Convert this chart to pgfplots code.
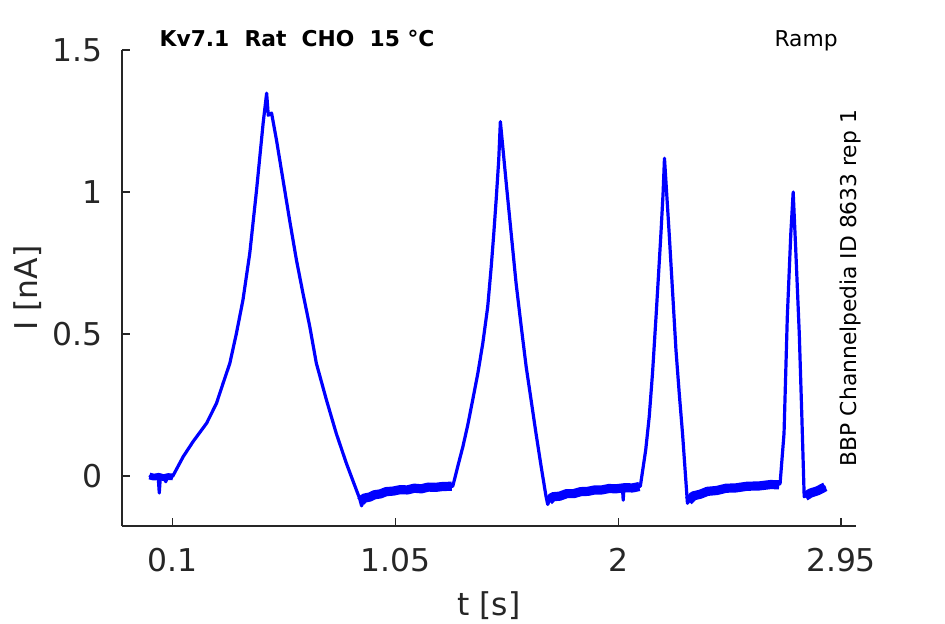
\documentclass[border=0pt]{standalone}
\usepackage{fontspec}
\setmainfont{DejaVu Sans}
\usepackage{pgfplots}
\pgfplotsset{compat=1.18}
\definecolor{axgray}{RGB}{38,38,38}
\definecolor{trace}{RGB}{0,0,255}
\newcommand{\tickfont}{\fontsize{15.7bp}{18bp}\selectfont}
\newcommand{\smallfont}{\fontsize{10.9bp}{13bp}\selectfont}
\begin{document}
\begin{tikzpicture}
\path[use as bounding box] (-61bp,-49bp) rectangle (411.5bp,263bp);
\begin{axis}[
  at={(0,0)}, anchor=south west,
  scale only axis, width=367bp, height=238bp,
  xmin=-0.117, xmax=3.014, ymin=-0.176, ymax=1.5,
  axis lines*=left,
  axis line style={draw=axgray, line width=0.55bp},
  tick style={draw=axgray, line width=0.55bp},
  tick align=inside, major tick length=4bp,
  xtick={0.1,1.05,2,2.95}, xticklabels={0.1,1.05,2,2.95},
  ytick={0,0.5,1,1.5}, yticklabels={0,0.5,1,1.5},
  xticklabel style={font=\tickfont, text=axgray, anchor=north, inner sep=0pt, yshift=-11bp},
  yticklabel style={font=\tickfont, text=axgray, anchor=east, inner sep=0pt, xshift=-9.35bp},
  xlabel={t [s]}, ylabel={I [nA]},
  xlabel style={font=\tickfont, text=axgray, at={(rel axis cs:0.5,-0.187)}, anchor=base, inner sep=0pt},
  ylabel style={font=\tickfont, text=axgray, at={(rel axis cs:-0.1154,0.5)}, rotate=0, anchor=base, inner sep=0pt},
  clip=false,
]
% main trace
\addplot[trace, line width=1.6bp, line join=round] coordinates {
(0,0.003) (0.01,-0.005) (0.02,0.002) (0.03,-0.008) (0.038,-0.01) (0.042,-0.06) (0.046,-0.01) (0.06,-0.005) (0.07,-0.02) (0.075,-0.005) (0.09,-0.004) (0.1,0.0)
(0.144,0.068) (0.186,0.121) (0.244,0.186) (0.286,0.256) (0.314,0.326) (0.343,0.397) (0.371,0.502) (0.399,0.620) (0.428,0.784) (0.457,1.007) (0.485,1.242) (0.5,1.348) (0.507,1.27) (0.521,1.278)
(0.542,1.183) (0.570,1.042) (0.598,0.901) (0.627,0.761) (0.655,0.643) (0.684,0.526) (0.712,0.397) (0.755,0.268) (0.797,0.150) (0.840,0.045) (0.875,-0.032) (0.897,-0.08)
(0.905,-0.105) (0.915,-0.08) (0.93,-0.078) (0.95,-0.07) (0.98,-0.062) (1.0,-0.057) (1.05,-0.05) (1.1,-0.047) (1.15,-0.044) (1.2,-0.04) (1.25,-0.038) (1.294,-0.036)
(1.315,0.033) (1.337,0.103) (1.358,0.180) (1.379,0.268) (1.401,0.362) (1.422,0.467) (1.443,0.596) (1.458,0.737) (1.469,0.855) (1.479,0.972) (1.490,1.113) (1.497,1.248)
(1.522,1.031) (1.543,0.855) (1.564,0.679) (1.586,0.526) (1.607,0.385) (1.628,0.268) (1.649,0.150) (1.671,0.033) (1.692,-0.073) (1.699,-0.1)
(1.71,-0.078) (1.75,-0.068) (1.805,-0.061) (1.85,-0.055) (1.9,-0.05) (1.95,-0.047) (2.018,-0.045) (2.021,-0.085) (2.024,-0.045) (2.05,-0.043) (2.094,-0.036)
(2.117,0.092) (2.132,0.209) (2.146,0.362) (2.161,0.561) (2.172,0.714) (2.182,0.855) (2.191,0.995) (2.197,1.119)
(2.217,0.855) (2.232,0.643) (2.246,0.444) (2.260,0.291) (2.274,0.150) (2.295,-0.096)
(2.31,-0.075) (2.374,-0.052) (2.45,-0.043) (2.55,-0.036) (2.69,-0.028)
(2.707,0.150) (2.721,0.561) (2.736,0.855) (2.746,1.0) (2.757,0.796) (2.772,0.502) (2.783,0.209) (2.793,-0.073)
(2.81,-0.065) (2.85,-0.05) (2.885,-0.038)
};
% noisy baseline bands
\addplot[trace, line width=3.4bp, line join=round] coordinates {
(0,0.0) (0.02,-0.004) (0.04,-0.001) (0.06,-0.006) (0.08,-0.002) (0.1,-0.003)
};
\addplot[trace, line width=4.6bp, line join=round] coordinates {
(0.902,-0.09) (0.915,-0.078) (0.94,-0.074) (0.96,-0.066) (0.985,-0.063) (1.01,-0.055) (1.04,-0.053) (1.07,-0.048) (1.1,-0.049) (1.13,-0.043) (1.16,-0.045) (1.19,-0.039) (1.22,-0.04) (1.25,-0.037) (1.29,-0.036)
};
\addplot[trace, line width=4.6bp, line join=round] coordinates {
(1.703,-0.088) (1.72,-0.073) (1.75,-0.071) (1.78,-0.062) (1.81,-0.062) (1.84,-0.055) (1.87,-0.054) (1.9,-0.049) (1.93,-0.049) (1.96,-0.044) (1.99,-0.045) (2.03,-0.041) (2.06,-0.042) (2.09,-0.037)
};
\addplot[trace, line width=4.6bp, line join=round] coordinates {
(2.299,-0.088) (2.32,-0.07) (2.35,-0.064) (2.38,-0.054) (2.42,-0.051) (2.46,-0.043) (2.5,-0.042) (2.55,-0.036) (2.6,-0.035) (2.65,-0.03) (2.686,-0.031)
};
\addplot[trace, line width=4.6bp, line join=round] coordinates {
(2.797,-0.072) (2.82,-0.06) (2.85,-0.052) (2.883,-0.038)
};
\node[font=\smallfont\bfseries, anchor=base west, inner sep=0pt] at (rel axis cs:0.0508,1.0069) {Kv7.1\ \ Rat\ \ CHO\ \ 15 °C};
\node[font=\smallfont, anchor=base east, inner sep=0pt] at (rel axis cs:0.9755,1.0069) {Ramp};
\node[font=\smallfont, rotate=90, anchor=base, inner sep=0pt] at (rel axis cs:1.001,0.5) {BBP Channelpedia ID 8633 rep 1};
\end{axis}
\end{tikzpicture}
\end{document}
